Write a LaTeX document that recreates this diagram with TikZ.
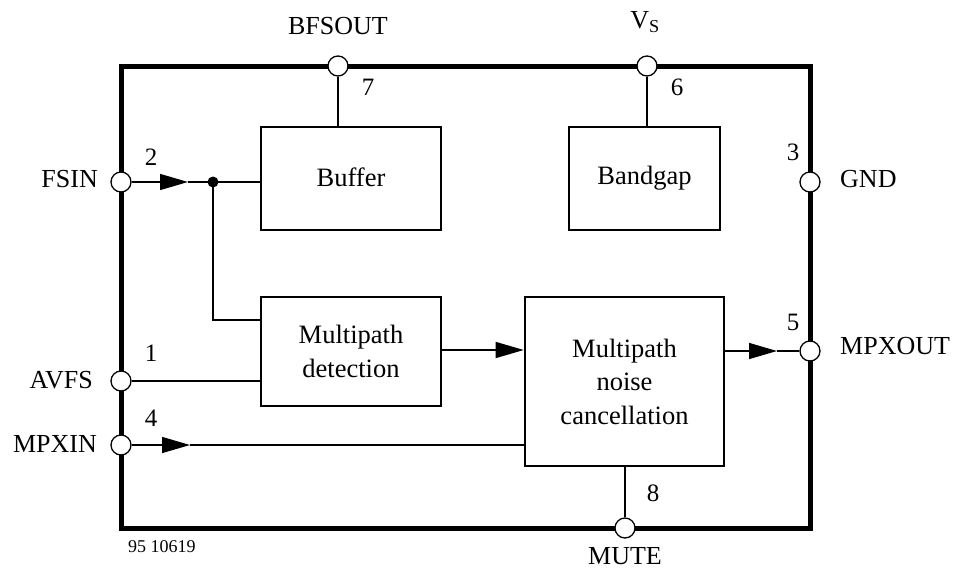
\documentclass[tikz,border=0pt]{standalone}
\usepackage{fontspec}
\setmainfont{Liberation Serif}
\usetikzlibrary{arrows.meta}
\begin{document}
\begin{tikzpicture}[x=1pt,y=-1pt,
  blk/.style={draw,line width=2.6pt,minimum width=#1,inner sep=0pt,align=center,font=\fontsize{26.5}{33.5}\selectfont},
  pin/.style={circle,draw,line width=1.3pt,fill=white,minimum size=20pt,inner sep=0pt},
  wire/.style={line width=1.4pt},
  arr/.style={wire,-{Triangle[length=28pt,width=16pt]}},
  lbl/.style={font=\fontsize{26}{28}\selectfont,inner sep=0pt},
  num/.style={font=\fontsize{25}{28}\selectfont,inner sep=0pt}]
\useasboundingbox (0,0) rectangle (954,573);
% outer chip border
\draw[line width=5pt] (121,66) rectangle (810,528);
% blocks
\node[blk=180pt,minimum height=103pt] (buf) at (351,178.5) {\raisebox{3pt}{Buffer}};
\node[blk=151pt,minimum height=103pt] (bg) at (644.5,178.5) {\raisebox{3pt}{Bandgap}};
\node[blk=180pt,minimum height=109pt] (det) at (351,351.5) {Multipath\\detection};
\node[blk=199pt,minimum height=169pt] (nc) at (624.5,381.5) {Multipath\\noise\\cancellation};
% pins
\node[pin] (fsin) at (121,182) {};
\node[pin] (avfs) at (121,381) {};
\node[pin] (mpxin) at (121,445) {};
\node[pin] (gnd) at (810,182) {};
\node[pin] (mpxout) at (810,351) {};
\node[pin] (bfsout) at (338,66) {};
\node[pin] (vs) at (647,66) {};
\node[pin] (mute) at (625,528) {};
% junction
\coordinate (jn) at (213,182);
\coordinate (a1) at (188,182);
\coordinate (a2) at (190,445);
\coordinate (a3) at (777,351);
% wires
\draw[arr] (fsin) -- (a1);
\draw[wire] (a1) -- (jn) -- (buf.west |- jn);
\fill (jn) circle (5.5pt);
\draw[wire] (jn) |- (det.west |- 0,320);
\draw[wire] (avfs) -- (det.west |- avfs);
\draw[arr] (det.east |- 0,350) -- (nc.west |- 0,350);
\draw[arr] (mpxin) -- (a2);
\draw[wire] (a2) -- (nc.west |- mpxin);
\draw[arr] (nc.east |- mpxout) -- (a3);
\draw[wire] (a3) -- (mpxout);
\draw[wire] (buf.north -| bfsout) -- (bfsout);
\draw[wire] (bg.north -| vs) -- (vs);
\draw[wire] (nc.south -| mute) -- (mute);
% pin labels
\node[lbl,anchor=east] (tfsin) at (98,179.5) {FSIN};
\node[lbl,anchor=east] (tavfs) at (93,380) {AVFS};
\node[lbl,anchor=east] (tmpxin) at (97,444) {MPXIN};
\node[lbl,anchor=west] (tgnd) at (840,179.5) {GND};
\node[lbl,anchor=west] (tmpxout) at (840,346) {MPXOUT};
\node[lbl] (tbfs) at (338,26.5) {BFSOUT};
\node[lbl] (tvs) at (645,22) {V\textsubscript{S}};
\node[lbl] (tmute) at (625,556) {MUTE};
% pin numbers
\node[num] (n2) at (151,157) {2};
\node[num] (n1) at (151,353) {1};
\node[num] (n4) at (151,418) {4};
\node[num] (n7) at (368,87) {7};
\node[num] (n6) at (677,87) {6};
\node[num] (n3) at (793,152) {3};
\node[num] (n5) at (793,322) {5};
\node[num] (n8) at (653,493) {8};
\node[font=\fontsize{18}{20}\selectfont,anchor=west,inner sep=0pt] (code) at (128,547) {95 10619};
\end{tikzpicture}
\end{document}
